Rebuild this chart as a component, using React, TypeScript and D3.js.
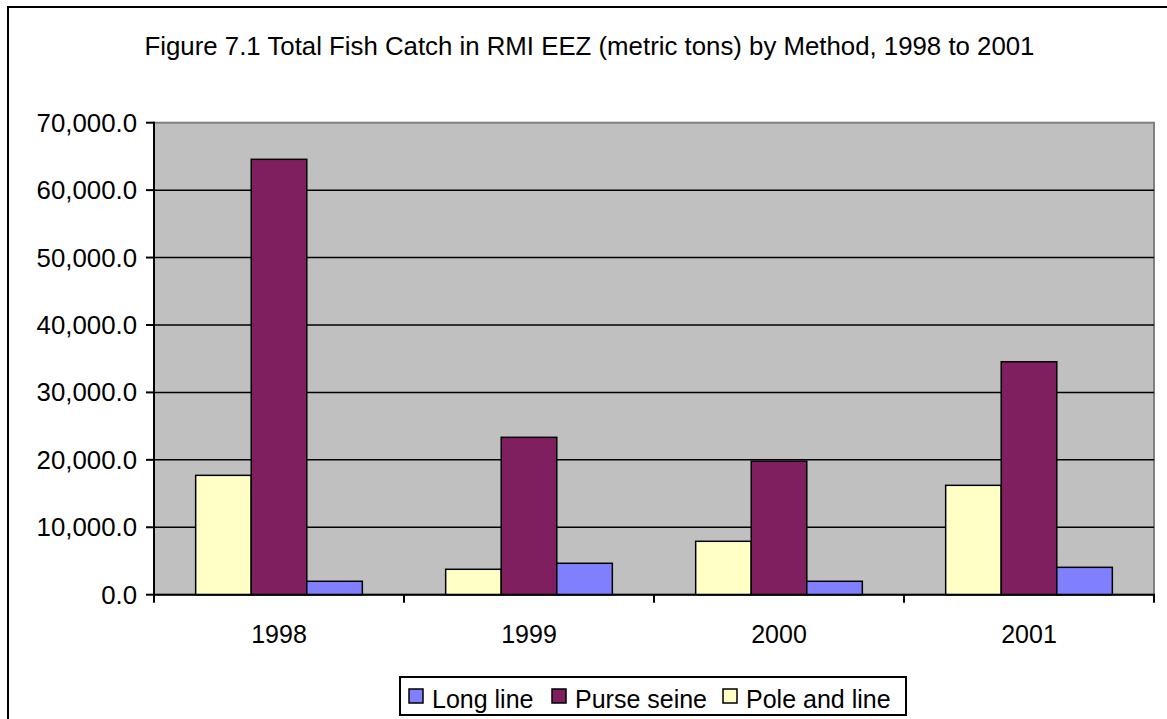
import React from "react";
import * as d3 from "d3";

const categories = ["1998", "1999", "2000", "2001"];
const seriesNames = ["Pole and line", "Purse seine", "Long line"];
const poleAndLine = [17700, 3770, 7920, 16220];
const purseSeine = [64570, 23340, 19800, 34550];
const longLine = [1990, 4660, 1990, 4060];
const yTicks = [0, 10000, 20000, 30000, 40000, 50000, 60000, 70000];
const legendOrder = ["Long line", "Purse seine", "Pole and line"];

const colors: Record<string, string> = {
  "Pole and line": "#FFFFC6",
  "Purse seine": "#7F1F5F",
  "Long line": "#8080FF",
};

const W = 1167;
const H = 719;
const left = 154;
const right = 1154;
const top = 122.7;
const bottom = 594.7;
const font = "'Liberation Sans', Arial, sans-serif";

export default function App() {
  const values: Record<string, number[]> = {
    "Pole and line": poleAndLine,
    "Purse seine": purseSeine,
    "Long line": longLine,
  };
  const x0 = d3.scaleBand<string>().domain(categories).range([left, right]).paddingInner(0).paddingOuter(0);
  const bw = x0.bandwidth();
  const barW = bw / 4.5;
  const gap = barW * 1.5;
  const x1 = d3.scaleBand<string>().domain(seriesNames).range([gap / 2, bw - gap / 2]).padding(0);
  const y = d3.scaleLinear().domain([0, 70000]).range([bottom, top]);
  const fmt = d3.format(",.1f");

  const legendItems = [
    { name: legendOrder[0], sx: 409, tx: 432 },
    { name: legendOrder[1], sx: 552, tx: 575 },
    { name: legendOrder[2], sx: 723, tx: 746 },
  ];

  return (
    <svg width={W} height={H} style={{ position: "absolute", left: 0, top: 0, display: "block" }}>
      <rect x={0} y={0} width={W} height={H} fill="#fff" />
      <rect x={8} y={7} width={W + 20} height={H + 20} fill="#fff" stroke="#000" strokeWidth={2} />
      <text x={589.5} y={55} textAnchor="middle" fontFamily={font} fontSize={25.8} fill="#000">
        Figure 7.1 Total Fish Catch in RMI EEZ (metric tons) by Method, 1998 to 2001
      </text>
      <rect x={left} y={top} width={right - left} height={bottom - top} fill="#C0C0C0" stroke="#808080" strokeWidth={2} />
      {yTicks.slice(1, -1).map((t) => (
        <line key={t} x1={left} x2={right} y1={y(t)} y2={y(t)} stroke="#000" strokeWidth={1.5} />
      ))}
      {categories.map((c, ci) =>
        seriesNames.map((s) => {
          const v = values[s][ci];
          return (
            <rect
              key={c + s}
              x={(x0(c) as number) + (x1(s) as number)}
              y={y(v)}
              width={x1.bandwidth()}
              height={bottom - y(v)}
              fill={colors[s]}
              stroke="#000"
              strokeWidth={1.5}
            />
          );
        })
      )}
      <line x1={left} x2={left} y1={top - 1} y2={bottom + 1} stroke="#000" strokeWidth={2} />
      <line x1={left - 1} x2={right + 1} y1={bottom} y2={bottom} stroke="#000" strokeWidth={2} />
      {yTicks.map((t) => (
        <g key={t}>
          <line x1={left - 8} x2={left} y1={y(t)} y2={y(t)} stroke="#000" strokeWidth={2} />
          <text x={137} y={y(t) + 9} textAnchor="end" fontFamily={font} fontSize={25.8} fill="#000">
            {fmt(t)}
          </text>
        </g>
      ))}
      {d3.range(categories.length + 1).map((i) => {
        const xx = left + i * bw;
        return <line key={i} x1={xx} x2={xx} y1={bottom} y2={bottom + 8} stroke="#000" strokeWidth={2} />;
      })}
      {categories.map((c) => (
        <text key={c} x={(x0(c) as number) + bw / 2} y={643} textAnchor="middle" fontFamily={font} fontSize={25} fill="#000">
          {c}
        </text>
      ))}
      <rect x={400} y={677} width={506} height={38} fill="#fff" stroke="#000" strokeWidth={2} />
      {legendItems.map((it) => (
        <g key={it.name}>
          <rect x={it.sx} y={689} width={14} height={14} fill={colors[it.name]} stroke="#000" strokeWidth={1.5} />
          <text x={it.tx} y={708} fontFamily={font} fontSize={25} fill="#000">
            {it.name}
          </text>
        </g>
      ))}
    </svg>
  );
}
